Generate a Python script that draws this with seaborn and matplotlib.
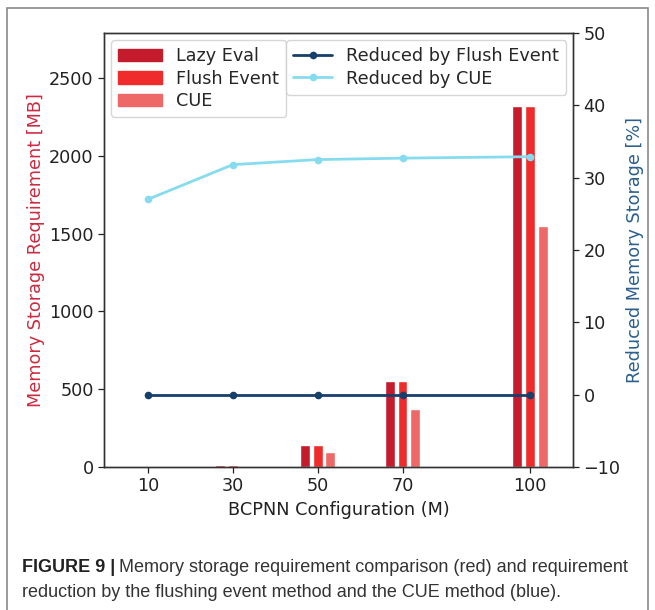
import pandas as pd
import matplotlib.pyplot as plt
import seaborn as sns
from matplotlib.patches import Rectangle

# datos
config = [10, 30, 50, 70, 100]
lazy_eval = [2, 15, 143, 556, 2320]
flush_event = [2, 15, 143, 556, 2320]
cue = [1.5, 8, 94, 373, 1550]
red_flush = [0, 0, 0, 0, 0]
red_cue = [27.0, 31.8, 32.5, 32.7, 32.9]

metodos = ["Lazy Eval", "Flush Event", "CUE"]
colores_barras = ["#c41c2c", "#f02b2b", "#ee6868"]
color_flush = "#173f6b"
color_cue = "#86dcee"

df = pd.DataFrame({
    "config": config * 3,
    "memoria": lazy_eval + flush_event + cue,
    "metodo": [m for m in metodos for _ in config],
})

sns.set_style("white")
plt.rcParams["font.family"] = ["DejaVu Sans"]
fs = 12.7

fig = plt.figure(figsize=(6.55, 6.10), dpi=100)
ax = fig.add_axes([0.159, 0.2344, 0.716, 0.7115])
ax2 = ax.twinx()

sns.barplot(data=df, x="config", y="memoria", hue="metodo", hue_order=metodos,
            palette=colores_barras, native_scale=True, width=0.45, gap=0.22,
            saturation=1, ax=ax, legend=False)

sns.lineplot(x=config, y=red_flush, color=color_flush, marker="o", markersize=5.5,
             markeredgewidth=0, linewidth=2.0, label="Reduced by Flush Event", ax=ax2)
sns.lineplot(x=config, y=red_cue, color=color_cue, marker="o", markersize=5.5,
             markeredgewidth=0, linewidth=2.0, label="Reduced by CUE", ax=ax2)

ax.set_xlim(-0.3, 110.2)
ax.set_ylim(0, 2790)
ax2.set_ylim(-10, 50)
ax.set_xticks(config)
ax.set_xticklabels([str(c) for c in config])
ax.set_yticks([0, 500, 1000, 1500, 2000, 2500])
ax2.set_yticks([-10, 0, 10, 20, 30, 40, 50])

for a in (ax, ax2):
    a.tick_params(labelsize=fs, length=4, width=0.9, direction="out", colors="#222222")
    for s in a.spines.values():
        s.set_color("#333333")
        s.set_linewidth(1.0)
ax.tick_params(axis="both", which="both", bottom=True, left=True)
ax2.tick_params(right=True)

ax.set_xlabel("BCPNN Configuration (M)", fontsize=fs, color="#222222")
ax.set_ylabel("Memory Storage Requirement [MB]", fontsize=fs, color="#cc2a40", labelpad=3)
ax2.set_ylabel("Reduced Memory Storage [%]", fontsize=fs, color="#2b5f8e")

# leyendas
handles = [Rectangle((0, 0), 1, 1, color=c) for c in colores_barras]
leg1 = ax2.legend(handles, metodos, loc="upper left", fontsize=fs, frameon=True,
                  handlelength=2.5, borderaxespad=0.4, labelspacing=0.25)
ax2.add_artist(leg1)
ax2.legend(loc="upper right", fontsize=fs, frameon=True, handlelength=2.2,
           borderaxespad=0.4, labelspacing=0.25)

# marco y pie de figura
fig.patches.append(Rectangle((7 / 655, -0.05), 641 / 655, 1 - 8 / 610 + 0.05,
                             transform=fig.transFigure, fill=False,
                             edgecolor="#8a8a8a", linewidth=1.2))
fuente_pie = ["Liberation Sans Narrow", "Liberation Sans", "DejaVu Sans"]
t = fig.text(22 / 655, 1 - 572 / 610, "FIGURE 9 |", fontsize=13, fontweight="bold",
             family=fuente_pie, color="#222222", va="baseline")
fig.canvas.draw()
bb = t.get_window_extent()
fig.text((bb.x1 + 4) / 655, 1 - 572 / 610,
         "Memory storage requirement comparison (red) and requirement",
         fontsize=13, family=fuente_pie, color="#333333", va="baseline")
fig.text(22 / 655, 1 - 597 / 610,
         "reduction by the flushing event method and the CUE method (blue).",
         fontsize=13, family=fuente_pie, color="#333333", va="baseline")

plt.savefig("out.png", dpi=100)
